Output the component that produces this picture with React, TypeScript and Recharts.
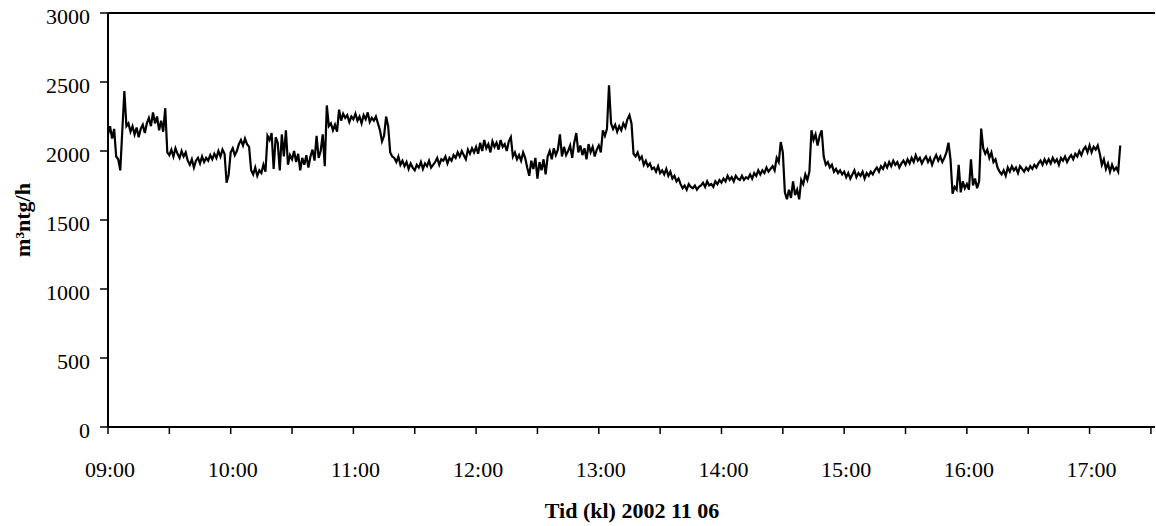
import { Label, Line, LineChart, ReferenceLine, XAxis, YAxis } from "recharts";

// gas flow readings, one value per minute, starting on the hour
const flow0900 = [
  2120, 2180, 2090, 2160, 1960, 1940, 1860, 2150, 2435, 2180,
  2200, 2140, 2180, 2120, 2170, 2100, 2160, 2190, 2130, 2200,
  2240, 2180, 2280, 2200, 2250, 2150, 2220, 2140, 2310, 1990,
  1970, 2010, 1960, 2020, 1980, 1950, 2000, 1960, 1990, 1930,
  1900, 1940, 1880, 1930, 1950, 1910, 1960, 1920, 1950, 1930,
  1970, 1940, 1980, 1950, 2000, 1960, 2010, 1980, 1770, 1830,
];
const flow1000 = [
  1990, 2020, 1970, 2000, 2050, 2080, 2040, 2090, 2050, 2030,
  1860, 1830, 1880, 1820, 1860, 1840, 1900, 1850, 2110, 2080,
  2130, 1870, 2100, 2060, 1860, 2120, 1960, 2150, 1900, 1970,
  1940, 2000, 1920, 1980, 1860, 1950, 1900, 1970, 1880, 1960,
  2010, 1930, 2110, 1950, 2000, 2120, 1890, 2330, 2180, 2200,
  2150, 2190, 2140, 2300, 2220, 2270, 2240, 2260, 2210, 2250,
];
const flow1100 = [
  2230, 2270, 2220, 2250, 2200, 2260, 2230, 2280, 2210, 2240,
  2220, 2250, 2200, 2150, 2070, 2110, 2250, 2180, 1990, 1960,
  1950, 1920, 1960, 1900, 1930, 1890, 1920, 1870, 1910, 1880,
  1860, 1900, 1880, 1920, 1870, 1910, 1890, 1930, 1880, 1900,
  1920, 1950, 1900, 1940, 1930, 1960, 1910, 1950, 1930, 1970,
  1950, 1990, 1960, 2000, 1970, 1940, 2010, 1980, 2020, 1990,
];
const flow1200 = [
  2030, 1980, 2060, 2000, 2080, 2020, 2050, 1990, 2070, 2030,
  2060, 2010, 2080, 2030, 2050, 2000, 2070, 2100, 1960, 1990,
  1940, 1970, 1930, 1990, 1950, 1880, 1820, 1930, 1870, 1950,
  1800, 1920, 1860, 1940, 1830, 1960, 2000, 1940, 2020, 1970,
  2010, 2120, 1960, 2030, 1970, 2000, 2040, 1950, 2060, 2130,
  1990, 2040, 1970, 2020, 1940, 2050, 1990, 2030, 1960, 2010,
];
const flow1300 = [
  2040, 1990, 2150, 2110, 2160, 2476, 2200, 2160, 2190, 2140,
  2180, 2150, 2200, 2170, 2230, 2260, 2200, 1980, 1960, 1990,
  1940, 1960, 1900, 1930, 1890, 1910, 1870, 1880, 1850, 1890,
  1840, 1860, 1830, 1870, 1820, 1850, 1800, 1820, 1780, 1800,
  1760, 1730, 1750, 1720, 1760, 1740, 1730, 1750, 1720, 1740,
  1750, 1770, 1740, 1780, 1750, 1760, 1740, 1780, 1760, 1790,
];
const flow1400 = [
  1770, 1800, 1780, 1820, 1790, 1810, 1780, 1820, 1800, 1790,
  1820, 1790, 1810, 1800, 1830, 1800, 1840, 1820, 1860, 1830,
  1860, 1840, 1880, 1850, 1870, 1890, 1860, 1950, 1920, 2065,
  1990, 1700, 1650, 1720, 1660, 1780, 1680, 1720, 1650, 1790,
  1760, 1830, 1790, 1850, 2150, 2080, 2120, 2040, 2110, 2150,
  1960, 1900, 1920, 1880, 1900, 1850, 1870, 1840, 1860, 1830,
];
const flow1500 = [
  1850, 1810, 1840, 1800, 1830, 1860, 1810, 1840, 1820, 1850,
  1800, 1840, 1820, 1850, 1830, 1860, 1880, 1850, 1890, 1870,
  1910, 1880, 1920, 1890, 1930, 1900, 1920, 1880, 1910, 1930,
  1900, 1940, 1910, 1950, 1920, 1970, 1930, 1950, 1910, 1940,
  1960, 1920, 1950, 1900, 1940, 1970, 1930, 1960, 1920, 1950,
  1990, 2060, 1940, 1690, 1740, 1720, 1900, 1700, 1780, 1730,
];
const flow1600 = [
  1760, 1720, 1940, 1750, 1800, 1730, 1780, 2162, 2020, 1980,
  2010, 1950, 1990, 1920, 1940, 1880, 1850, 1830, 1860, 1820,
  1880, 1850, 1890, 1860, 1880, 1840, 1890, 1870, 1850, 1880,
  1860, 1890, 1870, 1900, 1880, 1910, 1930, 1900, 1940, 1910,
  1940, 1910, 1950, 1920, 1940, 1900, 1950, 1930, 1960, 1920,
  1950, 1970, 1940, 1980, 1960, 2000, 1970, 2010, 2030, 1990,
];
const flow1700 = [
  2040, 1990, 2030, 2010, 2040, 1980, 1900, 1940, 1870, 1910,
  1850, 1900, 1860, 1880, 1850, 2040,
];

const hours = [flow0900, flow1000, flow1100, flow1200, flow1300, flow1400, flow1500, flow1600, flow1700];
const hourLabels = ["09:00", "10:00", "11:00", "12:00", "13:00", "14:00", "15:00", "16:00", "17:00"];
const xTicks = [0, 30, 60, 90, 120, 150, 180, 210, 240, 270, 300, 330, 360, 390, 420, 450, 480, 510];
const yTicks = [0, 500, 1000, 1500, 2000, 2500, 3000];

// minutes since 09:00
const data = hours.flatMap((vals, h) => vals.map((v, i) => ({ t: h * 60 + i, flow: v })));

const font = "'Liberation Serif', 'Times New Roman', serif";

const XTick = ({ x, y, payload }: any) => {
  if (payload.value % 60 !== 0) return <g />;
  return (
    <text x={x + 2} y={y + 43} textAnchor="middle" fontFamily={font} fontSize={22} fill="#000">
      {hourLabels[payload.value / 60]}
    </text>
  );
};

const YTick = ({ x, y, payload }: any) => (
  <text x={x} y={y + 11} textAnchor="end" fontFamily={font} fontSize={22} fill="#000">
    {payload.value}
  </text>
);

export default function App() {
  return (
    <div style={{ position: "absolute", left: 0, top: 0, background: "#fff" }}>
      <LineChart width={1156} height={526} data={data} margin={{ top: 13, right: 1, bottom: 0, left: 0 }}>
        <XAxis
          dataKey="t"
          type="number"
          domain={[0, 512]}
          ticks={xTicks}
          interval={0}
          height={99}
          tickSize={7}
          tickMargin={0}
          axisLine={{ stroke: "#000", strokeWidth: 2 }}
          tickLine={{ stroke: "#000", strokeWidth: 1.5 }}
          tick={<XTick />}
        >
          <Label
            content={() => (
              <text x={632} y={518} textAnchor="middle" fontFamily={font} fontSize={22} fontWeight="bold" fill="#000">
                Tid (kl) 2002 11 06
              </text>
            )}
          />
        </XAxis>
        <YAxis
          type="number"
          domain={[0, 3000]}
          ticks={yTicks}
          interval={0}
          width={108}
          tickSize={8}
          tickMargin={10}
          axisLine={{ stroke: "#000", strokeWidth: 2 }}
          tickLine={{ stroke: "#000", strokeWidth: 1.5 }}
          tick={<YTick />}
        >
          <Label
            content={() => (
              <text
                x={22}
                y={220}
                transform="rotate(-90 22 220)"
                textAnchor="middle"
                dominantBaseline="central"
                fontFamily={font}
                fontSize={22}
                fontWeight="bold"
                fill="#000"
              >
                m³ntg/h
              </text>
            )}
          />
        </YAxis>
        <ReferenceLine y={3000} stroke="#000" strokeWidth={2} />
        <Line
          type="linear"
          dataKey="flow"
          stroke="#000"
          strokeWidth={2.2}
          dot={false}
          isAnimationActive={false}
        />
      </LineChart>
    </div>
  );
}
